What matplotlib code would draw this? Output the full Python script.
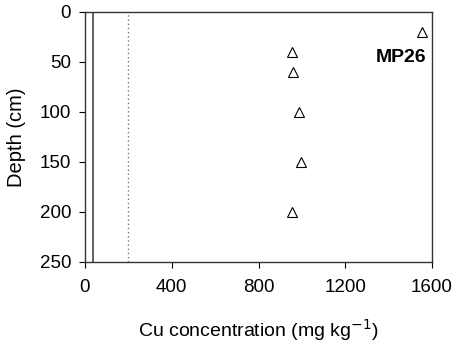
import matplotlib
matplotlib.use("Agg")
import matplotlib.pyplot as plt

plt.rcParams['font.family'] = ['Liberation Sans', 'DejaVu Sans']

cu = [1552, 955, 957, 988, 998, 954]
depth = [20, 40, 60, 100, 150, 200]
solid_ref = 36
dotted_ref = 197

fig = plt.figure(figsize=(4.55, 3.45), dpi=100)
ax = fig.add_axes([85/455, 1-262/345, 347/455, 250/345])

ax.axvline(solid_ref, color='#555555', lw=1.3)
ax.axvline(dotted_ref, color='#777777', lw=1.0, ls=(0, (1, 2)))
ax.plot(cu, depth, ls='none', marker='^', ms=7, mfc='white', mec='black', mew=0.8)

ax.set_xlim(0, 1600)
ax.set_ylim(250, 0)
ax.set_xticks([0, 400, 800, 1200, 1600])
ax.set_yticks([0, 50, 100, 150, 200, 250])
ax.tick_params(direction='out', length=4, width=0.8, labelsize=13.5)
ax.tick_params(axis='x', pad=8)
ax.tick_params(axis='y', pad=6)
for s in ax.spines.values():
    s.set_linewidth(1.0)
    s.set_color('#333333')

ax.text(1575, 46, 'MP26', fontsize=14, fontweight='bold', ha='right', va='center')
ax.set_xlabel('Cu concentration (mg kg$^{-1}$)', fontsize=14)
ax.set_ylabel('Depth (cm)', fontsize=14.5)
ax.xaxis.set_label_coords(0.5, -0.22)
ax.yaxis.set_label_coords(-0.17, 0.5)

fig.savefig('out.png', dpi=100)
